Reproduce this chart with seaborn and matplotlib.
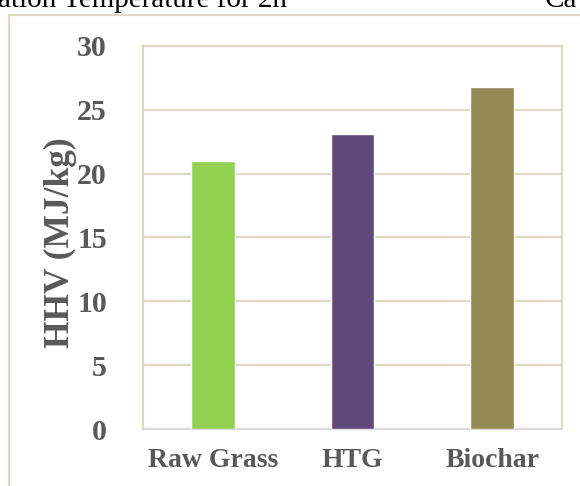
import matplotlib
matplotlib.use("Agg")
import matplotlib.pyplot as plt
from matplotlib.lines import Line2D
import seaborn as sns
import pandas as pd

# HHV of the three samples
categories = ["Raw Grass", "HTG", "Biochar"]
hhv_values = [21.0, 23.1, 26.8]
bar_colors = ["#92D050", "#5F497A", "#948A54"]
y_ticks = [0, 5, 10, 15, 20, 25, 30]

sns.set_theme(style="white")
plt.rcParams["font.family"] = ["Liberation Serif", "DejaVu Serif"]

W, H = 580, 486
fig = plt.figure(figsize=(W / 100, H / 100), dpi=100)
ax = fig.add_axes([143 / W, 1 - 429 / H, (562 - 143) / W, (429 - 46) / H])

df = pd.DataFrame({"sample": categories, "hhv": hhv_values})
sns.barplot(data=df, x="sample", y="hhv", hue="sample", palette=bar_colors,
            width=0.315, legend=False, ax=ax, saturation=1, zorder=3)

grid_col = "#DDD9C3"
ax.set_ylim(0, 30)
ax.set_yticks(y_ticks)
ax.yaxis.grid(True, color=grid_col, linewidth=1.6, zorder=0)
ax.set_axisbelow(True)
for side in ["left", "right", "top"]:
    ax.spines[side].set_color(grid_col)
    ax.spines[side].set_linewidth(1.6)
ax.spines["bottom"].set_color("#D9D9D9")
ax.spines["bottom"].set_linewidth(1.6)

ax.set_xlabel("")
ax.set_ylabel("")
ax.tick_params(axis="both", length=0, colors="#595959")
ax.tick_params(axis="y", pad=26, labelsize=21.5)
ax.tick_params(axis="x", pad=14, labelsize=20)
for lbl in ax.get_xticklabels() + ax.get_yticklabels():
    lbl.set_fontweight("bold")
    lbl.set_color("#595959")

fig.text(60 / W, 1 - 243 / H, "HHV (MJ/kg)", rotation=90, ha="center",
         va="center", fontsize=25.5, fontweight="bold", color="#595959")

# surrounding frame of the chart object
fig.add_artist(Line2D([9 / W, 9 / W], [0, 1 - 15 / H], transform=fig.transFigure,
                      color=grid_col, linewidth=1.6))
fig.add_artist(Line2D([9 / W, 1], [1 - 15 / H, 1 - 15 / H], transform=fig.transFigure,
                      color=grid_col, linewidth=1.6))

# caption text running above the chart
fig.text(287 / W, 1 - 7 / H, "ation Temperature for 2h", ha="right", va="baseline",
         fontsize=21, color="black")
fig.text(545 / W, 1 - 7 / H, "Ca", ha="left", va="baseline",
         fontsize=21, color="black")

fig.savefig("out.png", dpi=100)
